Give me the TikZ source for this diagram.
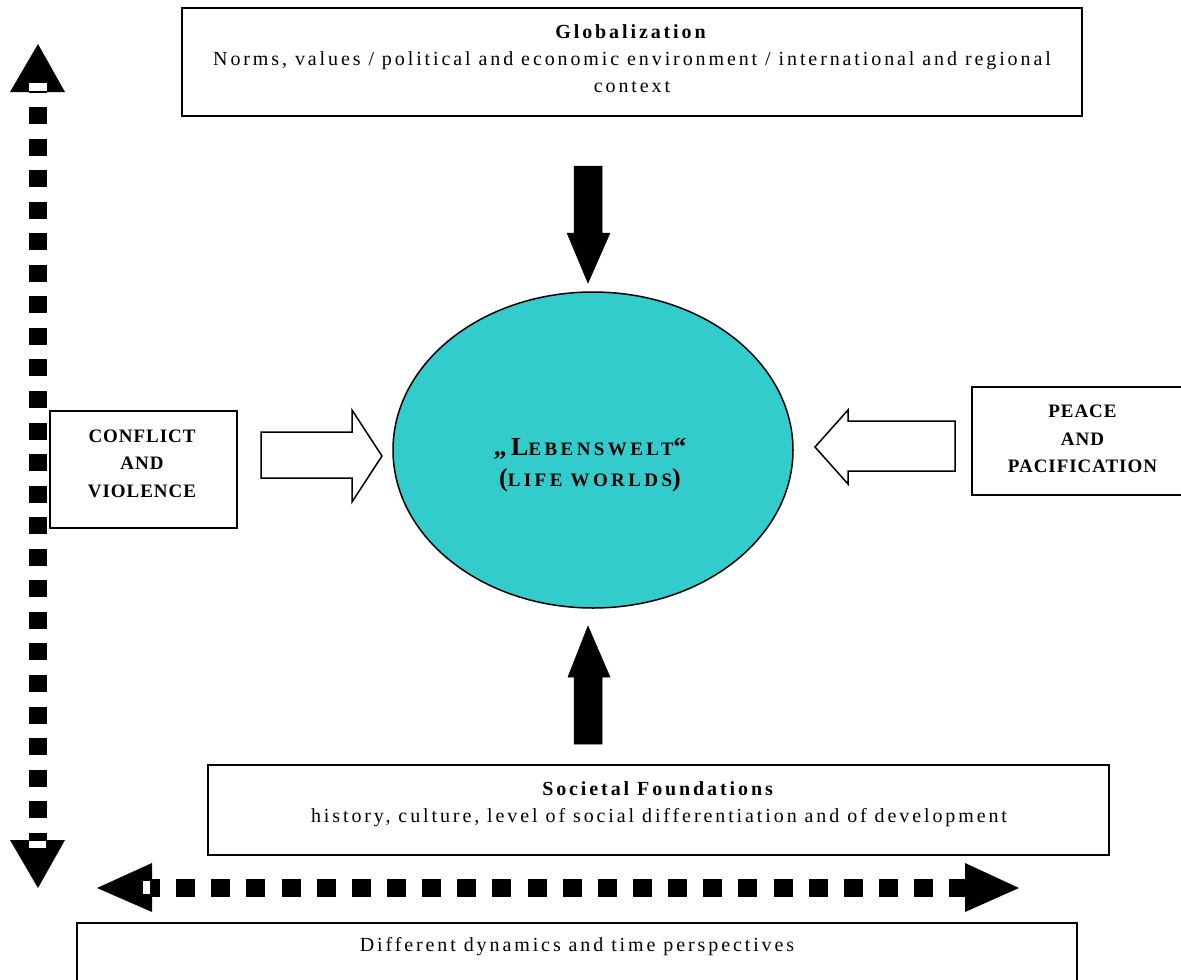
\documentclass[tikz,border=0pt]{standalone}
\usepackage{fontspec}
\usetikzlibrary{shapes.geometric}
\setmainfont{Liberation Serif}
\newfontfamily\spaced[LetterSpace=14.5]{Liberation Serif}
\newfontfamily\spacedcaps[LetterSpace=5]{Liberation Serif}
\newfontfamily\widecaps[LetterSpace=18]{Liberation Serif}
\definecolor{lifeteal}{RGB}{51,204,204}
\newcommand\mysc[1]{{\fontsize{19}{19}\selectfont #1}}
\tikzset{
  box/.style={draw=black, line width=1.5pt, fill=white, inner sep=0pt},
  txt/.style={align=center, inner sep=0pt, font=\spaced\fontsize{20}{27}\selectfont},
  captxt/.style={align=center, inner sep=0pt, font=\spacedcaps\bfseries\fontsize{19}{27.5}\selectfont},
  solidarrow/.style={fill=black, draw=black, line width=0.5pt},
  hollowarrow/.style={fill=white, draw=black, line width=1.5pt, line join=miter},
  dots/.style={line width=18pt, draw=black},
  dothead/.style={fill=black},
  gapmark/.style={fill=white}
}
\begin{document}
\begin{tikzpicture}[x=1pt, y=-1pt]
\useasboundingbox (0,0) rectangle (1181,980);
% boxes
\node[box, minimum width=900pt, minimum height=108pt] (glob) at (632,62) {};
\node[txt] (globtext) at (632,59) {\textbf{Globalization}\\Norms, values / political and economic environment / international and regional\\context};
\node[box, minimum width=901pt, minimum height=90pt] (soc) at (658.5,810) {};
\node[txt] (soctext) at (659,804.5) {\textbf{Societal Foundations}\\history, culture, level of social differentiation and of development};
\node[box, minimum width=1000pt, minimum height=80pt] (dyn) at (577,963) {};
\node[txt] (dyntext) at (577,947) {Different dynamics and time perspectives};
\node[box, minimum width=187pt, minimum height=117pt] (confl) at (143.5,469.5) {};
\node[captxt] (confltext) at (142,463.5) {CONFLICT\\AND\\VIOLENCE};
\node[box, minimum width=215pt, minimum height=108pt] (peace) at (1079.5,441) {};
\node[captxt] (peacetext) at (1082.5,439) {PEACE\\AND\\PACIFICATION};
% ellipse
\node[ellipse, draw=black, line width=1.5pt, fill=lifeteal, minimum width=400pt, minimum height=316pt, inner sep=0pt] (life) at (593,450) {};
\node[align=center, inner sep=0pt, font=\widecaps\bfseries\fontsize{26}{31}\selectfont] (lifetext) at (590,465) {„L\mysc{EBENSWELT}“\\(\mysc{LIFE WORLDS})};
% solid arrows
\fill[solidarrow] (574,166) -- (602,166) -- (602,233) -- (610,233) -- (588,283) -- (567,233) -- (574,233) -- cycle;
\fill[solidarrow] (574,744) -- (602,744) -- (602,677) -- (610,677) -- (588,626) -- (568,677) -- (574,677) -- cycle;
% hollow arrows
\draw[hollowarrow] (261,432) -- (352,432) -- (352,410) -- (382,456) -- (352,502) -- (352,478) -- (261,478) -- cycle;
\draw[hollowarrow] (955,421) -- (848,421) -- (848,410) -- (815,447) -- (848,484) -- (848,471) -- (955,471) -- cycle;
% dotted vertical
\coordinate (vtop) at (38,75.5);
\coordinate (vbot) at (38,840);
\draw[dots, dash pattern=on 17pt off 14.55pt] (vtop) -- (vbot);
\fill[dothead] (38,44) -- (65,92) -- (10,92) -- cycle;
\fill[gapmark] (29,83) rectangle (47,91);
\fill[dothead] (38,888) -- (65,840) -- (10,840) -- cycle;
\fill[gapmark] (29,841) rectangle (46,848);
% dotted horizontal
\coordinate (hl) at (141,888);
\coordinate (hr) at (965,888);
\draw[dots, dash pattern=on 19pt off 16.14pt] (hl) -- (hr);
\fill[dothead] (97,888) -- (152,863) -- (152,912) -- cycle;
\fill[gapmark] (143,881) rectangle (150,894);
\fill[dothead] (1019,888) -- (965,863) -- (965,912) -- cycle;
\end{tikzpicture}
\end{document}
